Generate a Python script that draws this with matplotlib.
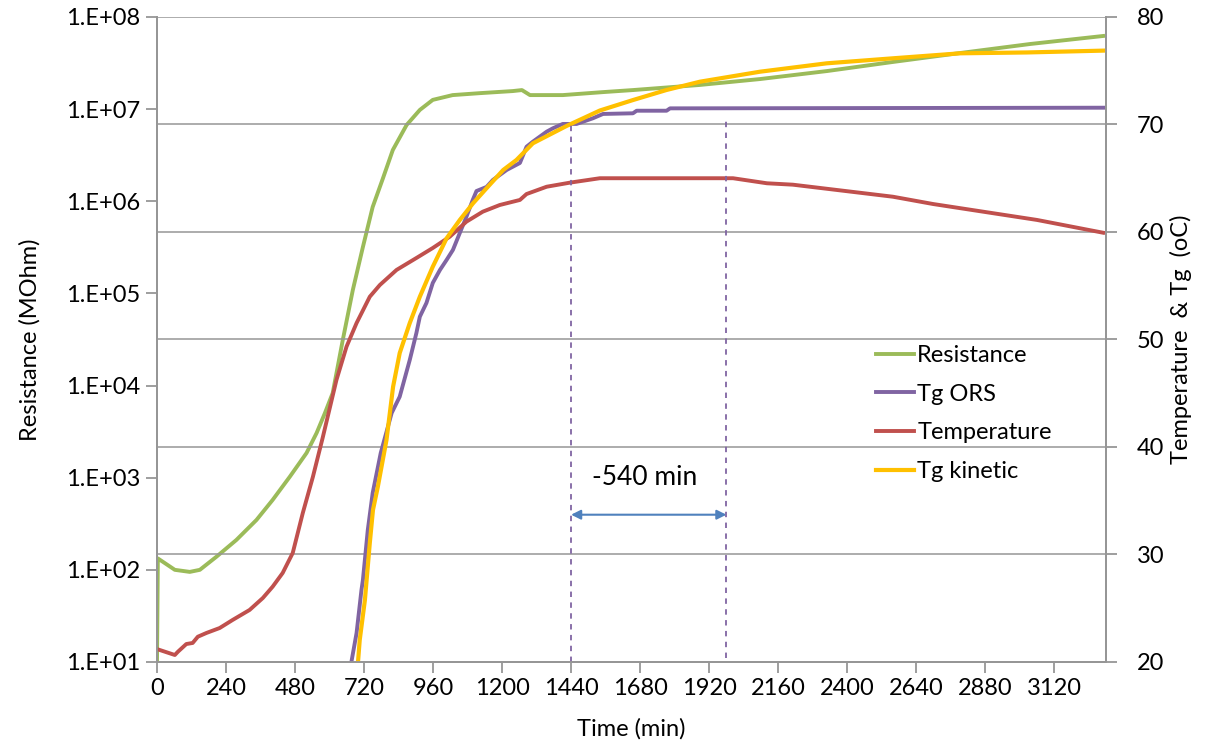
import numpy as np
import matplotlib
matplotlib.use("Agg")
import matplotlib.pyplot as plt
from matplotlib import ticker

plt.rcParams['font.family'] = ['Lato', 'DejaVu Sans']

# Resistance (MOhm), left log axis
t_res = [0, 3, 62, 114, 149, 207, 276, 346, 402, 462, 520, 555, 584, 611, 646, 681,
         716, 750, 785, 820, 868, 914, 959, 1028, 1122, 1237, 1269, 1297, 1411, 1551,
         1655, 1888, 2097, 2330, 2559, 2792, 3036, 3290]
resistance = [10, 133, 100, 95, 100, 139, 211, 348, 573, 1026, 1854, 3055, 5035, 8300,
              3.12e4, 1.09e5, 3.19e5, 8.67e5, 1.75e6, 3.6e6, 6.73e6, 9.8e6, 1.26e7,
              1.42e7, 1.49e7, 1.57e7, 1.61e7, 1.42e7, 1.42e7, 1.53e7, 1.61e7, 1.83e7,
              2.12e7, 2.59e7, 3.25e7, 4.06e7, 5.09e7, 6.22e7]

# Temperature (oC), right axis
t_temp = [0, 62, 73, 102, 124, 142, 172, 218, 263, 322, 368, 402, 437, 472, 507, 542,
          576, 624, 659, 694, 740, 775, 833, 902, 959, 1018, 1076, 1133, 1192, 1262,
          1285, 1355, 1436, 1540, 2003, 2121, 2211, 2559, 2699, 3060, 3290]
temperature = [21.2, 20.65, 20.96, 21.67, 21.77, 22.35, 22.7, 23.16, 23.91, 24.84, 25.95,
               27.0, 28.28, 30.14, 33.86, 37.21, 40.84, 46.23, 49.33, 51.53, 53.98, 55.07,
               56.47, 57.58, 58.51, 59.56, 60.96, 61.89, 62.51, 62.98, 63.53, 64.21, 64.59,
               65.0, 65.0, 64.53, 64.4, 63.28, 62.6, 61.12, 59.93]

# Tg ORS (oC), right axis
t_ors = [676, 694, 711, 716, 733, 750, 778, 816, 844, 879, 902, 914, 937, 959, 984, 1007,
         1029, 1053, 1076, 1098, 1111, 1146, 1168, 1216, 1262, 1285, 1307, 1355, 1377,
         1411, 1459, 1516, 1551, 1655, 1668, 1772, 1784, 3290]
tg_ors = [20.0, 22.7, 26.7, 27.63, 32.28, 35.72, 39.44, 43.16, 44.68, 48.1, 50.6, 52.12,
          53.4, 55.26, 56.47, 57.4, 58.33, 59.91, 61.42, 62.98, 63.81, 64.19, 64.84, 65.77,
          66.42, 67.93, 68.4, 69.33, 69.65, 70.05, 70.05, 70.58, 70.98, 71.04, 71.28, 71.28,
          71.5, 71.56]

# Tg kinetic (oC), right axis
t_kin = [699, 705, 723, 740, 751, 768, 798, 821, 844, 879, 914, 959, 1007, 1053, 1099,
         1146, 1204, 1250, 1307, 1424, 1540, 1656, 1772, 1888, 2097, 2329, 2561, 2793,
         3025, 3290]
tg_kin = [20.0, 22.05, 25.77, 31.07, 34.14, 36.31, 40.65, 45.61, 48.74, 51.53, 53.98,
          56.77, 59.41, 61.12, 62.67, 64.07, 65.77, 66.7, 68.25, 69.86, 71.3, 72.28, 73.21,
          73.98, 74.91, 75.69, 76.16, 76.62, 76.7, 76.87]

x_ticks = list(range(0, 3121, 240))
shift_start, shift_end = 1440, 1980

GREEN, PURPLE, RED, YELLOW = '#9BBB59', '#8064A2', '#C0504D', '#FFC000'
GRAY = '#969696'
FS = 17

fig = plt.figure(figsize=(12.17, 7.48), dpi=100)
ax = fig.add_axes([0.129, 0.115, 0.7798, 0.8623])
ax2 = ax.twinx()

l1, = ax.plot(t_res, resistance, color=GREEN, lw=2.8, label='Resistance')
ax.set_yscale('log')
ax.set_ylim(10, 1e8)
ax.set_xlim(0, 3300)
ax.yaxis.set_major_locator(ticker.LogLocator(base=10, numticks=10))
ax.yaxis.set_minor_locator(ticker.NullLocator())
ax.yaxis.set_major_formatter(ticker.FuncFormatter(lambda v, p: '1.E+%02d' % round(np.log10(v))))
ax.set_xticks(x_ticks)

l2, = ax2.plot(t_ors, tg_ors, color=PURPLE, lw=2.8, label='Tg ORS')
l3, = ax2.plot(t_temp, temperature, color=RED, lw=2.8, label='Temperature')
l4, = ax2.plot(t_kin, tg_kin, color=YELLOW, lw=3.0, label='Tg kinetic')
ax2.set_ylim(20, 80)
ax2.set_yticks(range(20, 81, 10))
ax2.yaxis.grid(True, color=GRAY, lw=1.1)
ax2.set_axisbelow(True)

# 540 min shift between the dashed markers
ax2.vlines(shift_start, 20, 70, colors=PURPLE, linestyles=(0, (3, 3)), lw=1.3)
ax2.vlines(shift_end, 20.4, 70.4, colors=PURPLE, linestyles=(0, (3, 3)), lw=1.3)
ax2.annotate('', xy=(shift_start, 33.7), xytext=(shift_end, 33.7),
             arrowprops=dict(arrowstyle='<|-|>', color='#4F81BD', lw=1.5,
                             mutation_scale=14, shrinkA=0, shrinkB=0))
ax2.text((shift_start + shift_end) / 2 - 15, 37.2, '-%d min' % (shift_end - shift_start),
         ha='center', va='center', fontsize=19)

for a in (ax, ax2):
    for s in a.spines.values():
        s.set_color(GRAY)
        s.set_linewidth(1.3)
    a.spines['top'].set_visible(False)
    a.tick_params(colors=GRAY, labelcolor='black', labelsize=FS, width=1.3, length=8)
ax.tick_params(axis='y', pad=4)
ax2.tick_params(axis='y', pad=14)

ax.set_xlabel('Time (min)', fontsize=FS, labelpad=14)
ax.set_ylabel('Resistance (MOhm)', fontsize=FS, labelpad=18)
ax2.set_ylabel('Temperature  & Tg  (oC)', fontsize=FS, labelpad=4)

ax2.legend([l1, l2, l3, l4], ['Resistance', 'Tg ORS', 'Temperature', 'Tg kinetic'],
           loc='upper left', bbox_to_anchor=(0.745, 0.51), frameon=False, fontsize=FS,
           handlelength=1.6, handletextpad=0.15, labelspacing=0.75, borderpad=0)

fig.savefig('out.png', dpi=100)
